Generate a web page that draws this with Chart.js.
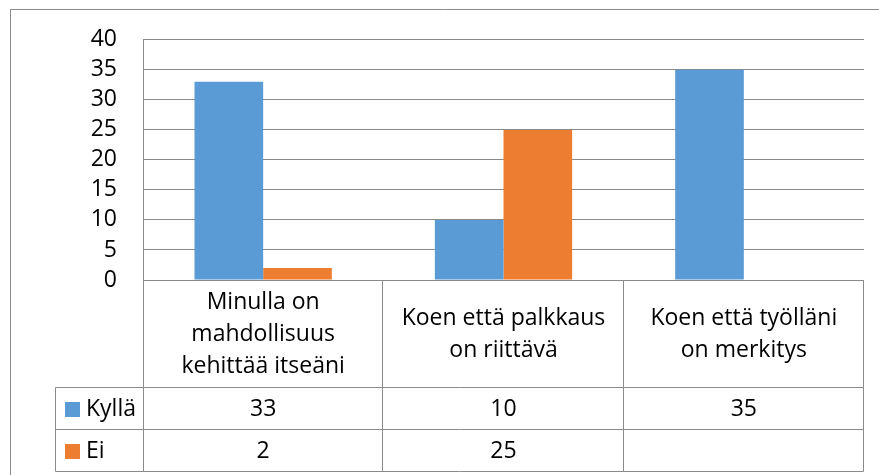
<!DOCTYPE html>
<html><head><meta charset="utf-8">
<script src="https://cdn.jsdelivr.net/npm/chart.js@4/dist/chart.umd.min.js"></script>
<style>html,body{margin:0;padding:0;background:#fff;}canvas{display:block;}</style>
</head><body>
<canvas id="c" width="879" height="475"></canvas>
<script>
const categories = [["Minulla on","mahdollisuus","kehittää itseäni"],["Koen että palkkaus","on riittävä"],["Koen että työlläni","on merkitys"]];
const seriesNames = ["Kyllä","Ei"];
const kyllaValues = [33,10,35];
const eiValues = [2,25,null];
const yTicks = [0,5,10,15,20,25,30,35,40];

const GRID = '#8a8a8a';
const FONT = "'Open Sans', sans-serif";
const FSIZE = 23;

function hline(ctx,x1,x2,y){ctx.beginPath();ctx.moveTo(x1,y);ctx.lineTo(x2,y);ctx.stroke();}
function vline(ctx,x,y1,y2){ctx.beginPath();ctx.moveTo(x,y1);ctx.lineTo(x,y2);ctx.stroke();}

const tablePlugin = {
  id:'dataTable',
  afterDraw(chart){
    const ctx = chart.ctx, xs = chart.scales.x, ca = chart.chartArea;
    const n = categories.length;
    const cw = (ca.right - ca.left)/n;
    const top = Math.round(xs.top)+0.5;
    const hdrBottom = Math.round(xs.bottom)+0.5;
    const rowH = 41.5;
    const r1 = Math.round(hdrBottom + rowH)+0.5;
    const r2 = Math.round(hdrBottom + 2*rowH)+0.5;
    const keyLeft = 55.5;
    const L = Math.round(ca.left)+0.5, R = Math.round(ca.right)-0.5;
    ctx.save();
    ctx.strokeStyle = GRID; ctx.lineWidth = 1;
    // outer chart border
    hline(ctx, 10.5, 879, 9.5); vline(ctx, 10.5, 9.5, 475);
    // table lines
    hline(ctx, L, R, top);
    hline(ctx, keyLeft, R, hdrBottom);
    hline(ctx, keyLeft, R, r1);
    hline(ctx, keyLeft, R, r2);
    vline(ctx, keyLeft, hdrBottom, r2);
    for (let i=0;i<=n;i++){
      const x = i===0 ? L : (i===n ? R : Math.round(ca.left + cw*i)-0.5);
      vline(ctx, x, top, r2);
    }
    // rows
    const rows = [kyllaValues, eiValues];
    ctx.font = FSIZE + 'px ' + FONT;
    ctx.textBaseline = 'middle';
    rows.forEach((vals, r) => {
      const yTop = r===0 ? hdrBottom : r1;
      const yBot = r===0 ? r1 : r2;
      const yc = (yTop + yBot)/2 + 1;
      const ds = chart.data.datasets[r];
      ctx.fillStyle = ds.backgroundColor;
      ctx.fillRect(65, Math.round(yc - 8), 15, 15);
      ctx.fillStyle = '#000';
      ctx.textAlign = 'left';
      ctx.fillText(seriesNames[r], 86, yc);
      ctx.textAlign = 'center';
      vals.forEach((v, i) => {
        if (v === null || v === undefined) return;
        ctx.fillText(String(v), xs.getPixelForValue(i), yc);
      });
    });
    ctx.restore();
  }
};

new Chart(document.getElementById('c'), {
  type: 'bar',
  data: {
    labels: categories,
    datasets: [
      {label: seriesNames[0], data: kyllaValues, backgroundColor: '#5B9BD5', categoryPercentage: 0.5714, barPercentage: 1},
      {label: seriesNames[1], data: eiValues, backgroundColor: '#ED7D31', categoryPercentage: 0.5714, barPercentage: 1}
    ]
  },
  options: {
    responsive: false,
    animation: false,
    layout: {padding: {left: 10, top: 38, right: 15, bottom: 88}},
    plugins: {legend: {display: false}, tooltip: {enabled: false}},
    scales: {
      y: {
        min: 0, max: 40,
        afterBuildTicks: s => { s.ticks = yTicks.map(v => ({value: v})); },
        afterFit: s => { s.width = 133; },
        grid: {color: GRID, drawTicks: false},
        border: {display: true, color: GRID},
        ticks: {padding: 26, autoSkip: false, color: '#000', font: {family: FONT, size: FSIZE}}
      },
      x: {
        afterFit: s => { s.height = 107; },
        grid: {display: false, drawTicks: false},
        border: {display: false},
        ticks: {padding: 22, maxRotation: 0, autoSkip: false, crossAlign: 'center', color: '#000', font: {family: FONT, size: FSIZE, lineHeight: '32px'}}
      }
    }
  },
  plugins: [tablePlugin]
});
</script>
</body></html>
